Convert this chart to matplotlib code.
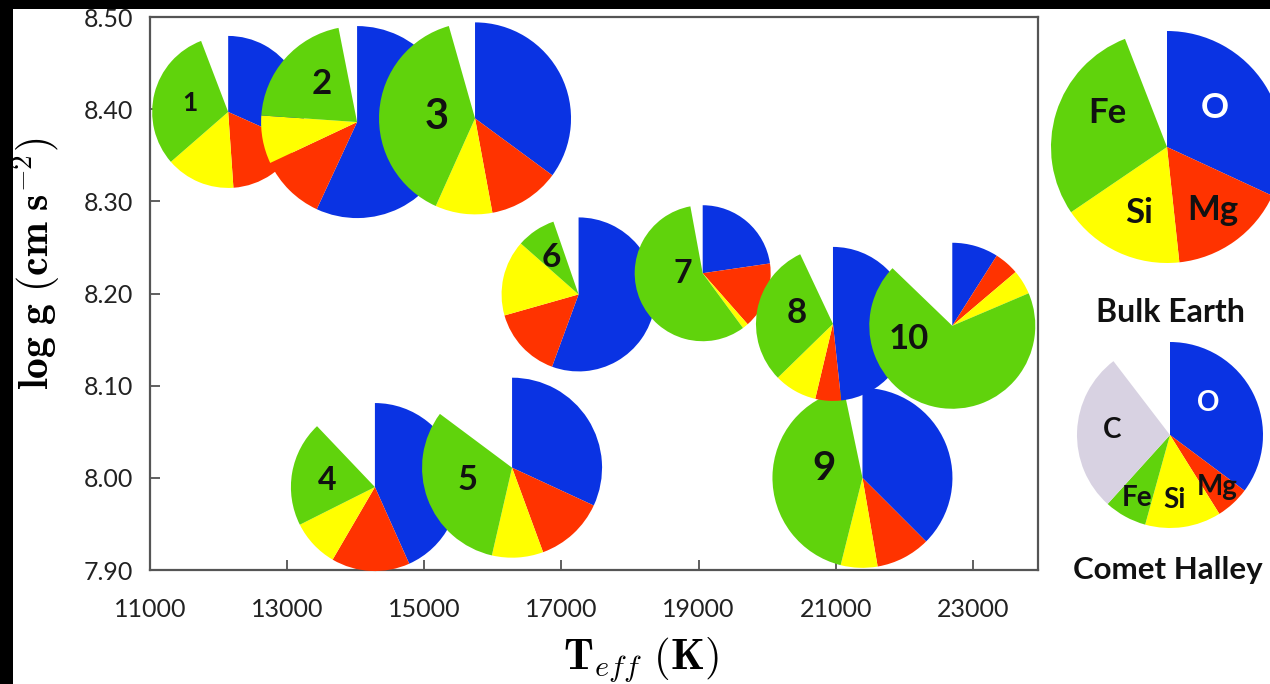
import numpy as np
import matplotlib
matplotlib.use("Agg")
import matplotlib.pyplot as plt
from matplotlib.patches import Wedge, Rectangle
from matplotlib.transforms import ScaledTranslation
from matplotlib.ticker import FormatStrFormatter

plt.rcParams['font.family'] = ['Lato', 'DejaVu Sans']
plt.rcParams['mathtext.fontset'] = 'cm'

# white dwarfs: Teff [K], log g and fraction of the pie for O, Mg, Si, Fe
labels = ["1", "2", "3", "4", "5", "6", "7", "8", "9", "10"]
teff = [12140, 14020, 15740, 14280, 16280, 17250, 19060, 20960, 21390, 22700]
logg = [8.397, 8.386, 8.390, 7.990, 8.011, 8.199, 8.222, 8.167, 8.000, 8.165]
frac_O = [0.317, 0.569, 0.351, 0.433, 0.319, 0.556, 0.227, 0.483, 0.375, 0.090]
frac_Mg = [0.172, 0.111, 0.120, 0.151, 0.125, 0.150, 0.158, 0.054, 0.098, 0.048]
frac_Si = [0.147, 0.081, 0.096, 0.092, 0.092, 0.159, 0.014, 0.090, 0.066, 0.048]
frac_Fe = [0.306, 0.208, 0.389, 0.203, 0.316, 0.082, 0.572, 0.303, 0.428, 0.686]

# reference bodies
earth_elems = ["O", "Mg", "Si", "Fe"]
earth_frac = [0.319, 0.164, 0.172, 0.286]
halley_elems = ["O", "Mg", "Si", "Fe", "C"]
halley_frac = [0.352, 0.059, 0.132, 0.074, 0.279]

# layout of the pies (pixels) and of the labels
radius_px = [76, 96, 96, 84, 90, 77, 68, 77, 90, 83]
layer = [1, 2, 3, 1, 2, 1, 2, 2, 1, 3]
label_off = [(-38, -9), (-35, -38), (-38, -1), (-48, -7), (-45, 12),
             (-27, -37), (-20, 0), (-36, -11), (-38, -9), (-43, 13)]
label_size = [19, 25, 30, 23, 25, 24, 23, 25, 29, 25]

colors = {"O": "#0a33e3", "Mg": "#ff3300", "Si": "#ffff00",
          "Fe": "#60d30c", "C": "#d8d2e2"}


def draw_pie(parent, base_trans, x, y, fracs, elems, r_px, z):
    trans = parent.figure.dpi_scale_trans + ScaledTranslation(x, y, base_trans)
    start = 0.0  # clockwise from 12 o'clock
    for f, el in zip(fracs, elems):
        end = start + 360 * f
        w = Wedge((0, 0), r_px / 100, 90 - end, 90 - start, transform=trans,
                  facecolor=colors[el], edgecolor='none', clip_on=False, zorder=z)
        parent.add_artist(w)
        start = end


fig = plt.figure(figsize=(12.7, 6.84), dpi=100)
ax = fig.add_axes([150 / 1270, 1 - 570 / 684, 888 / 1270, 553 / 684])

for i in range(len(labels)):
    fr = [frac_O[i], frac_Mg[i], frac_Si[i], frac_Fe[i]]
    draw_pie(ax, ax.transData, teff[i], logg[i], fr, ["O", "Mg", "Si", "Fe"],
             radius_px[i], 3 + layer[i])
    dx, dy = label_off[i]
    ax.annotate(labels[i], (teff[i], logg[i]), xytext=(dx * 0.72, -dy * 0.72),
                textcoords='offset points', ha='center', va='center',
                fontsize=label_size[i], fontweight='bold', color='#111111',
                zorder=10)

ax.set_xlim(11000, 23950)
ax.set_ylim(7.90, 8.50)
ax.set_xticks(np.arange(11000, 23001, 2000))
ax.set_yticks(np.arange(7.90, 8.501, 0.10))
ax.yaxis.set_major_formatter(FormatStrFormatter('%.2f'))
ax.tick_params(direction='in', length=7, width=1.2, color='#444444',
               labelsize=18, labelcolor='#222222', top=False, right=False)
ax.tick_params(axis='x', pad=20)
ax.tick_params(axis='y', pad=12)
for s in ax.spines.values():
    s.set_color('#555555')
    s.set_linewidth(1.6)

ax.set_xlabel(r'$\mathbf{T}_{eff}\ \mathbf{(K)}$', fontsize=31, va='center')
ax.set_ylabel(r'$\mathbf{log\ g\ (cm\ s^{-2})}$', fontsize=30, va='center')
ax.xaxis.set_label_coords((641 - 150) / 888, -(660 - 570) / 553)
ax.yaxis.set_label_coords(-(150 - 36) / 888, (570 - 264) / 553)

# Bulk Earth and Comet Halley
ex, ey = 1167 / 1270, 1 - 147 / 684
draw_pie(fig, fig.transFigure, ex, ey, earth_frac, earth_elems, 116, 3)
earth_txt = {"Fe": (-60, -34), "O": (48, -39), "Si": (-28, 66), "Mg": (46, 63)}
for el, (dx, dy) in earth_txt.items():
    fig.text(ex + dx / 1270, ey - dy / 684, el, ha='center', va='center',
             fontsize=25, fontweight='bold',
             color='white' if el == "O" else '#111111', zorder=10)
fig.text(1170 / 1270, 1 - 313 / 684, "Bulk Earth", ha='center', va='center',
         fontsize=23, fontweight='bold', color='#111111')

hx, hy = 1170 / 1270, 1 - 435 / 684
draw_pie(fig, fig.transFigure, hx, hy, halley_frac, halley_elems, 93, 3)
halley_txt = {"O": (38, -32), "C": (-58, -5), "Mg": (47, 52),
              "Fe": (-33, 63), "Si": (5, 65)}
for el, (dx, dy) in halley_txt.items():
    fig.text(hx + dx / 1270, hy - dy / 684, el, ha='center', va='center',
             fontsize=20, fontweight='bold',
             color='white' if el == "O" else '#111111', zorder=10)
fig.text(1168 / 1270, 1 - 570 / 684, "Comet Halley", ha='center', va='center',
         fontsize=22.5, fontweight='bold', color='#111111')

# black frame of the screenshot
fig.patches.append(Rectangle((0, 1 - 9 / 684), 1, 9 / 684, transform=fig.transFigure,
                             facecolor='black', edgecolor='none', zorder=20))
fig.patches.append(Rectangle((0, 0), 13 / 1270, 1, transform=fig.transFigure,
                             facecolor='black', edgecolor='none', zorder=20))

fig.savefig('out.png', dpi=100)
